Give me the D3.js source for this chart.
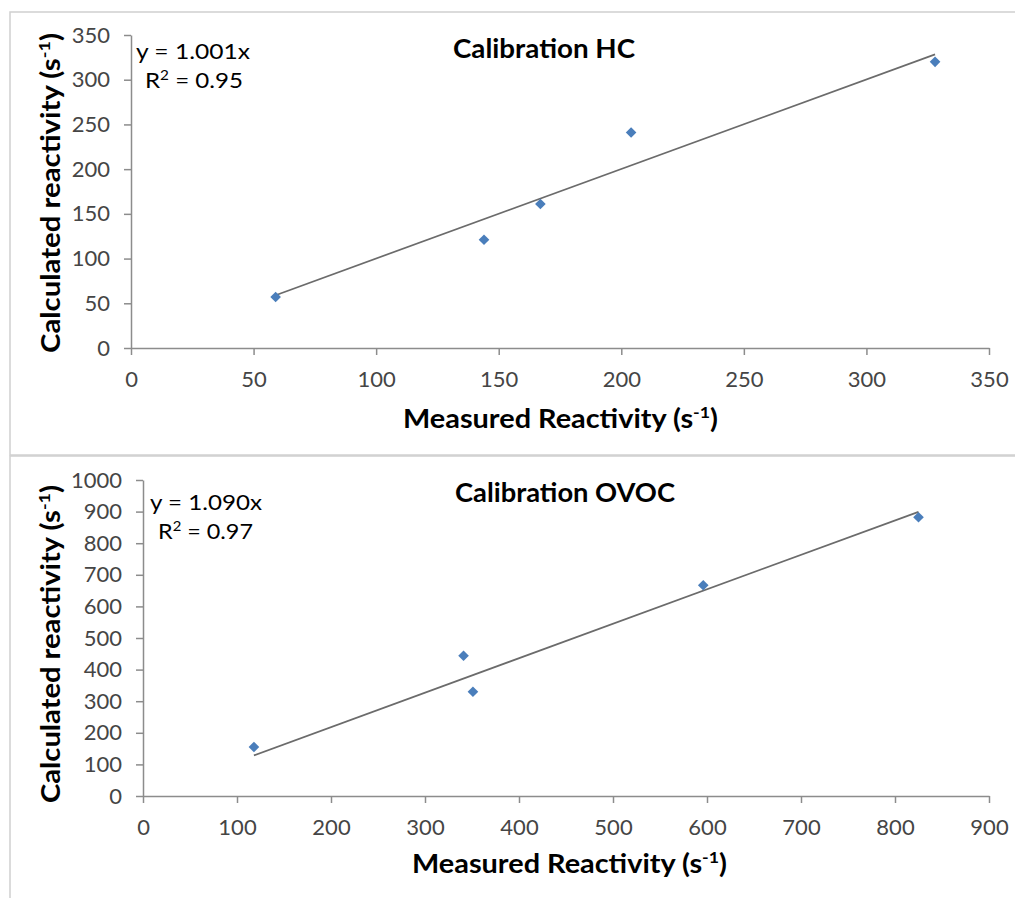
<!DOCTYPE html>
<html><head><meta charset="utf-8">
<script src="https://cdn.jsdelivr.net/npm/d3@7"></script>
<style>
body{margin:0;background:#fff;}
text{font-family:Lato,"Open Sans",sans-serif;}
</style></head>
<body><svg id="c" width="1015" height="898"></svg>
<script>
// Calibration HC
const hcMeasured   = [59, 144, 167, 204, 328];
const hcCalculated = [57, 121, 161, 241, 320];
const hcSlope = 1.001, hcR2 = "0.95";
const hcXTicks = [0,50,100,150,200,250,300,350];
const hcYTicks = [0,50,100,150,200,250,300,350];
// Calibration OVOC
const ovMeasured   = [118, 341, 351, 596, 825];
const ovCalculated = [155, 444, 330, 667, 882];
const ovSlope = 1.090, ovR2 = "0.97";
const ovXTicks = [0,100,200,300,400,500,600,700,800,900];
const ovYTicks = [0,100,200,300,400,500,600,700,800,900,1000];

const svg = d3.select("#c");

function supText(g, attrs, main, sup, tail, size, supSize, len){
  const t = g.append("text").style("font-size",size+"px").style("font-weight","bold").attr("fill","#000");
  Object.entries(attrs).forEach(([k,v])=>t.attr(k,v));
  if(len){ t.attr("textLength",len).attr("lengthAdjust","spacingAndGlyphs"); }
  t.append("tspan").text(main);
  t.append("tspan").attr("dy",-size*0.38).style("font-size",supSize+"px").text(sup);
  t.append("tspan").attr("dy",size*0.38).text(tail);
  return t;
}

function panel(cfg){
  const g = svg.append("g");
  g.append("rect").attr("x",cfg.box[0]).attr("y",cfg.box[1]).attr("width",cfg.box[2]).attr("height",cfg.box[3])
    .attr("fill","#fff").attr("stroke","#d0d0d0").attr("stroke-width",1.5);
  const x = d3.scaleLinear().domain([0, cfg.xMax]).range([cfg.x0, cfg.x1]);
  const y = d3.scaleLinear().domain([0, cfg.yMax]).range([cfg.y0, cfg.y1]);
  const fmt = d3.format("d");
  const xa = g.append("g").attr("transform",`translate(0,${cfg.y0})`)
    .call(d3.axisBottom(x).tickValues(cfg.xTicks).tickFormat(fmt).tickSize(7).tickPadding(16).tickSizeOuter(0));
  const ya = g.append("g").attr("transform",`translate(${cfg.x0},0)`)
    .call(d3.axisLeft(y).tickValues(cfg.yTicks).tickFormat(fmt).tickSize(7).tickPadding(14).tickSizeOuter(0));
  [xa,ya].forEach(a=>{
    a.select(".domain").attr("stroke","#8c8c8c").attr("stroke-width",1.5);
    a.selectAll(".tick line").attr("stroke","#8c8c8c").attr("stroke-width",1.5);
    a.selectAll(".tick text").attr("fill","#454545").style("font-size","22px").style("font-family","Lato, sans-serif");
  });
  // trend line (y = slope * x) over the measured range
  const lx0 = d3.min(cfg.mx), lx1 = d3.max(cfg.mx);
  g.append("line").attr("x1",x(lx0)).attr("y1",y(cfg.slope*lx0)).attr("x2",x(lx1)).attr("y2",y(cfg.slope*lx1))
    .attr("stroke","#6b6b6b").attr("stroke-width",1.7);
  // points
  g.selectAll("path.pt").data(cfg.mx.map((d,i)=>[d,cfg.my[i]])).enter().append("path")
    .attr("class","pt")
    .attr("d",d3.symbol().type(d3.symbolDiamond2).size(72))
    .attr("transform",d=>`translate(${x(d[0])},${y(d[1])})`)
    .attr("fill","#4a7ebb");
  // title
  g.append("text").attr("x",cfg.title[1]).attr("y",cfg.title[2])
    .style("font-size","27px").style("font-weight","bold").attr("fill","#000")
    .attr("textLength",cfg.title[3]).attr("lengthAdjust","spacingAndGlyphs").text(cfg.title[0]);
  // equation
  g.append("text").attr("x",cfg.eq[0]).attr("y",cfg.eq[1]).style("font-size","22px").attr("fill","#000")
    .attr("textLength",cfg.eq[4]).attr("lengthAdjust","spacingAndGlyphs")
    .text("y = "+cfg.slope.toFixed(3)+"x");
  const r = g.append("text").attr("x",cfg.eq[2]).attr("y",cfg.eq[3]).style("font-size","22px").attr("fill","#000")
    .attr("textLength",cfg.eq[5]).attr("lengthAdjust","spacingAndGlyphs");
  r.append("tspan").text("R");
  r.append("tspan").attr("dy",-8).style("font-size","14px").text("2");
  r.append("tspan").attr("dy",8).text(" = "+cfg.r2);
  // axis titles
  supText(g,{x:cfg.xt[0],y:cfg.xt[1]},"Measured Reactivity (s","-1",")",26,16,cfg.xt[2]);
  supText(g,{transform:`translate(${cfg.yt[0]},${cfg.yt[1]}) rotate(-90)`},"Calculated reactivity (s","-1",")",26,16,cfg.yt[2]);
}

panel({box:[10,12,1010,443], xMax:350, yMax:350, x0:131, x1:989, y0:348, y1:35,
  xTicks:hcXTicks, yTicks:hcYTicks, mx:hcMeasured, my:hcCalculated, slope:hcSlope, r2:hcR2,
  title:["Calibration HC",453,58,182], eq:[136,59,145,88,114,98], xt:[403,428,315], yt:[60,353,320]});
panel({box:[10,456,1010,450], xMax:900, yMax:1000, x0:143, x1:989, y0:796, y1:480,
  xTicks:ovXTicks, yTicks:ovYTicks, mx:ovMeasured, my:ovCalculated, slope:ovSlope, r2:ovR2,
  title:["Calibration OVOC",455,502,220], eq:[150,510,158,539,112,95], xt:[412,873,315], yt:[60,803,318]});
</script></body></html>
